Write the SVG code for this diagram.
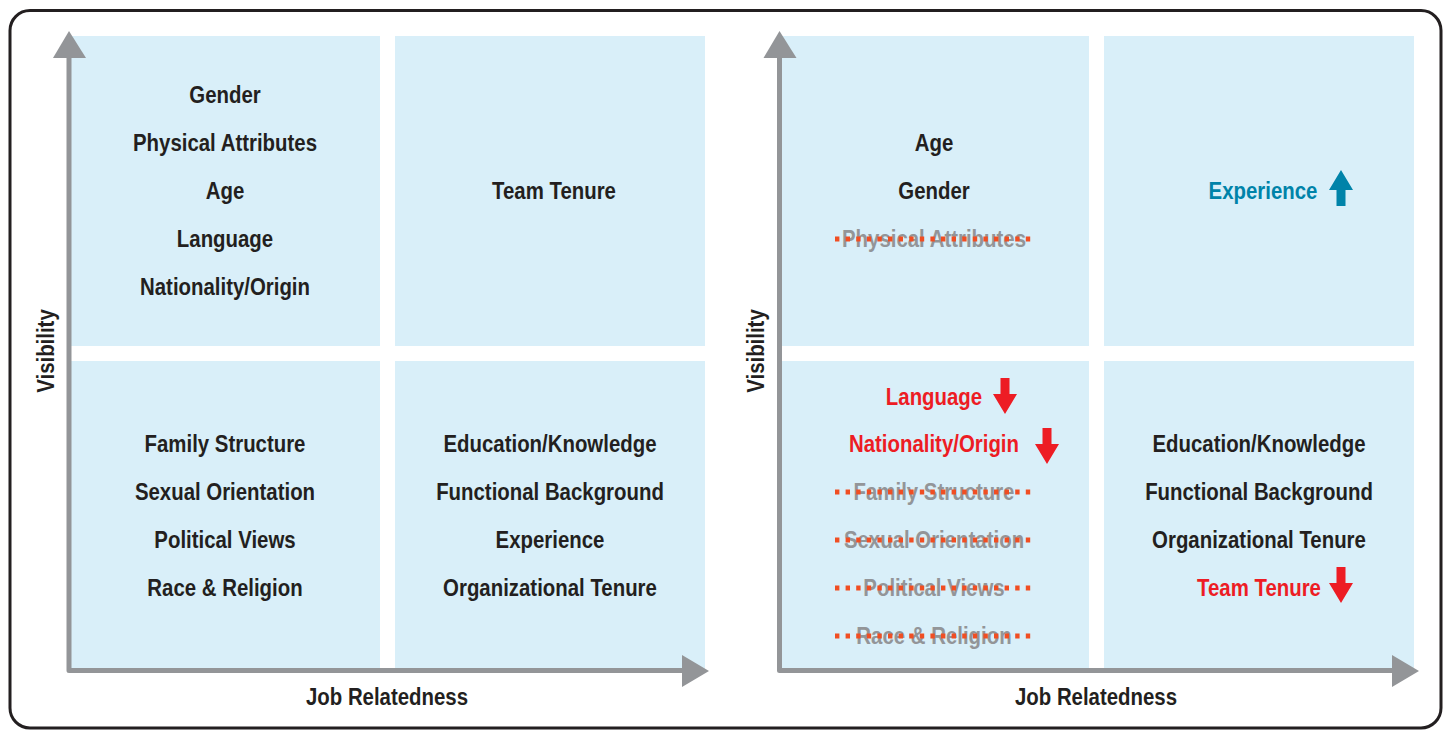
<svg xmlns="http://www.w3.org/2000/svg" width="1447" height="731" viewBox="0 0 1447 731">
  <defs>
    <style>
      .quad { fill: #d9eff9; }
      .axis { fill: none; stroke: #939598; stroke-width: 5; stroke-linejoin: round; }
      .head { fill: #939598; }
      text { font-family: "Liberation Sans", Arial, sans-serif; font-weight: bold; font-size: 24px; text-anchor: middle; }
      .dark { fill: #231f20; }
      .gone { fill: #939598; }
      .down { fill: #ed1c24; }
      .up { fill: #0083a9; }
      .strike { stroke: #f04e23; stroke-width: 4.8; stroke-dasharray: 4.4 6.2; fill: none; }
    </style>
    <path id="arrow-down" d="M -4.5 0 H 4.5 V 16 H 12 L 0 36 L -12 16 H -4.5 Z"/>
    <path id="arrow-up" d="M -4.5 36 H 4.5 V 20 H 12 L 0 0 L -12 20 H -4.5 Z"/>
  </defs>

  <rect id="frame" x="10" y="10.5" width="1431" height="717.5" rx="20" fill="#ffffff" stroke="#231f20" stroke-width="3"/>

  <!-- Left matrix -->
  <g id="left-quadrants">
    <rect class="quad" x="71" y="36" width="309" height="310"/>
    <rect class="quad" x="395" y="36" width="310" height="310"/>
    <rect class="quad" x="71" y="361" width="309" height="309"/>
    <rect class="quad" x="395" y="361" width="310" height="309"/>
  </g>

  <!-- Right matrix -->
  <g id="right-quadrants">
    <rect class="quad" x="781" y="36" width="308" height="310"/>
    <rect class="quad" x="1104" y="36" width="310" height="310"/>
    <rect class="quad" x="781" y="361" width="308" height="309"/>
    <rect class="quad" x="1104" y="361" width="310" height="309"/>
  </g>

  <g id="connectors">
    <polyline class="axis" points="69,56 69,670.5 684,670.5"/>
    <polygon class="head" points="69,31 53,58 86,58"/>
    <polygon class="head" points="709,671 682,655 682,687"/>
    <polyline class="axis" points="779.5,56 779.5,670.5 1394,670.5"/>
    <polygon class="head" points="779.5,31 763.5,58 796.5,58"/>
    <polygon class="head" points="1419,671 1392,655 1392,687"/>
  </g>

  <!-- labels are set in a condensed cut: x is divided by the 0.85 squeeze -->
  <g id="left-axis-labels">
    <g transform="scale(0.85 1)">
      <text class="dark" x="455.29" y="705">Job Relatedness</text>
    </g>
    <text class="dark" transform="translate(54,351) rotate(-90) scale(0.85 1)" x="0" y="0">Visibility</text>
  </g>
  <g id="right-axis-labels">
    <g transform="scale(0.85 1)">
      <text class="dark" x="1289.41" y="705">Job Relatedness</text>
    </g>
    <text class="dark" transform="translate(764,351) rotate(-90) scale(0.85 1)" x="0" y="0">Visibility</text>
  </g>

  <g id="left-high-visibility-low-relatedness">
    <g transform="scale(0.85 1)">
      <text class="dark" x="264.71" y="103">Gender</text>
      <text class="dark" x="264.71" y="151">Physical Attributes</text>
      <text class="dark" x="264.71" y="199">Age</text>
      <text class="dark" x="264.71" y="247">Language</text>
      <text class="dark" x="264.71" y="295">Nationality/Origin</text>
    </g>
  </g>
  <g id="left-high-visibility-high-relatedness">
    <g transform="scale(0.85 1)">
      <text class="dark" x="651.76" y="199">Team Tenure</text>
    </g>
  </g>
  <g id="left-low-visibility-low-relatedness">
    <g transform="scale(0.85 1)">
      <text class="dark" x="264.71" y="452">Family Structure</text>
      <text class="dark" x="264.71" y="500">Sexual Orientation</text>
      <text class="dark" x="264.71" y="548">Political Views</text>
      <text class="dark" x="264.71" y="596">Race &amp; Religion</text>
    </g>
  </g>
  <g id="left-low-visibility-high-relatedness">
    <g transform="scale(0.85 1)">
      <text class="dark" x="647.06" y="452">Education/Knowledge</text>
      <text class="dark" x="647.06" y="500">Functional Background</text>
      <text class="dark" x="647.06" y="548">Experience</text>
      <text class="dark" x="647.06" y="596">Organizational Tenure</text>
    </g>
  </g>

  <g id="right-high-visibility-low-relatedness">
    <g transform="scale(0.85 1)">
      <text class="dark" x="1098.82" y="151">Age</text>
      <text class="dark" x="1098.82" y="199">Gender</text>
      <text class="gone" x="1098.82" y="247">Physical Attributes</text>
    </g>
    <line class="strike" x1="835" y1="239" x2="1033" y2="239"/>
  </g>
  <g id="right-high-visibility-high-relatedness">
    <g transform="scale(0.85 1)">
      <text class="up" x="1485.88" y="199">Experience</text>
    </g>
    <use href="#arrow-up" class="up" x="1341" y="170"/>
  </g>
  <g id="right-low-visibility-low-relatedness">
    <g transform="scale(0.85 1)">
      <text class="down" x="1098.82" y="405">Language</text>
      <text class="down" x="1098.82" y="452">Nationality/Origin</text>
      <text class="gone" x="1098.82" y="500">Family Structure</text>
      <text class="gone" x="1098.82" y="548">Sexual Orientation</text>
      <text class="gone" x="1098.82" y="596">Political Views</text>
      <text class="gone" x="1098.82" y="644">Race &amp; Religion</text>
    </g>
    <use href="#arrow-down" class="down" x="1005" y="378"/>
    <use href="#arrow-down" class="down" x="1047" y="428"/>
    <line class="strike" x1="835" y1="492" x2="1033" y2="492"/>
    <line class="strike" x1="835" y1="540" x2="1033" y2="540"/>
    <line class="strike" x1="835" y1="588" x2="1033" y2="588"/>
    <line class="strike" x1="835" y1="636" x2="1033" y2="636"/>
  </g>
  <g id="right-low-visibility-high-relatedness">
    <g transform="scale(0.85 1)">
      <text class="dark" x="1481.18" y="452">Education/Knowledge</text>
      <text class="dark" x="1481.18" y="500">Functional Background</text>
      <text class="dark" x="1481.18" y="548">Organizational Tenure</text>
      <text class="down" x="1481.18" y="596">Team Tenure</text>
    </g>
    <use href="#arrow-down" class="down" x="1341" y="567"/>
  </g>
</svg>
